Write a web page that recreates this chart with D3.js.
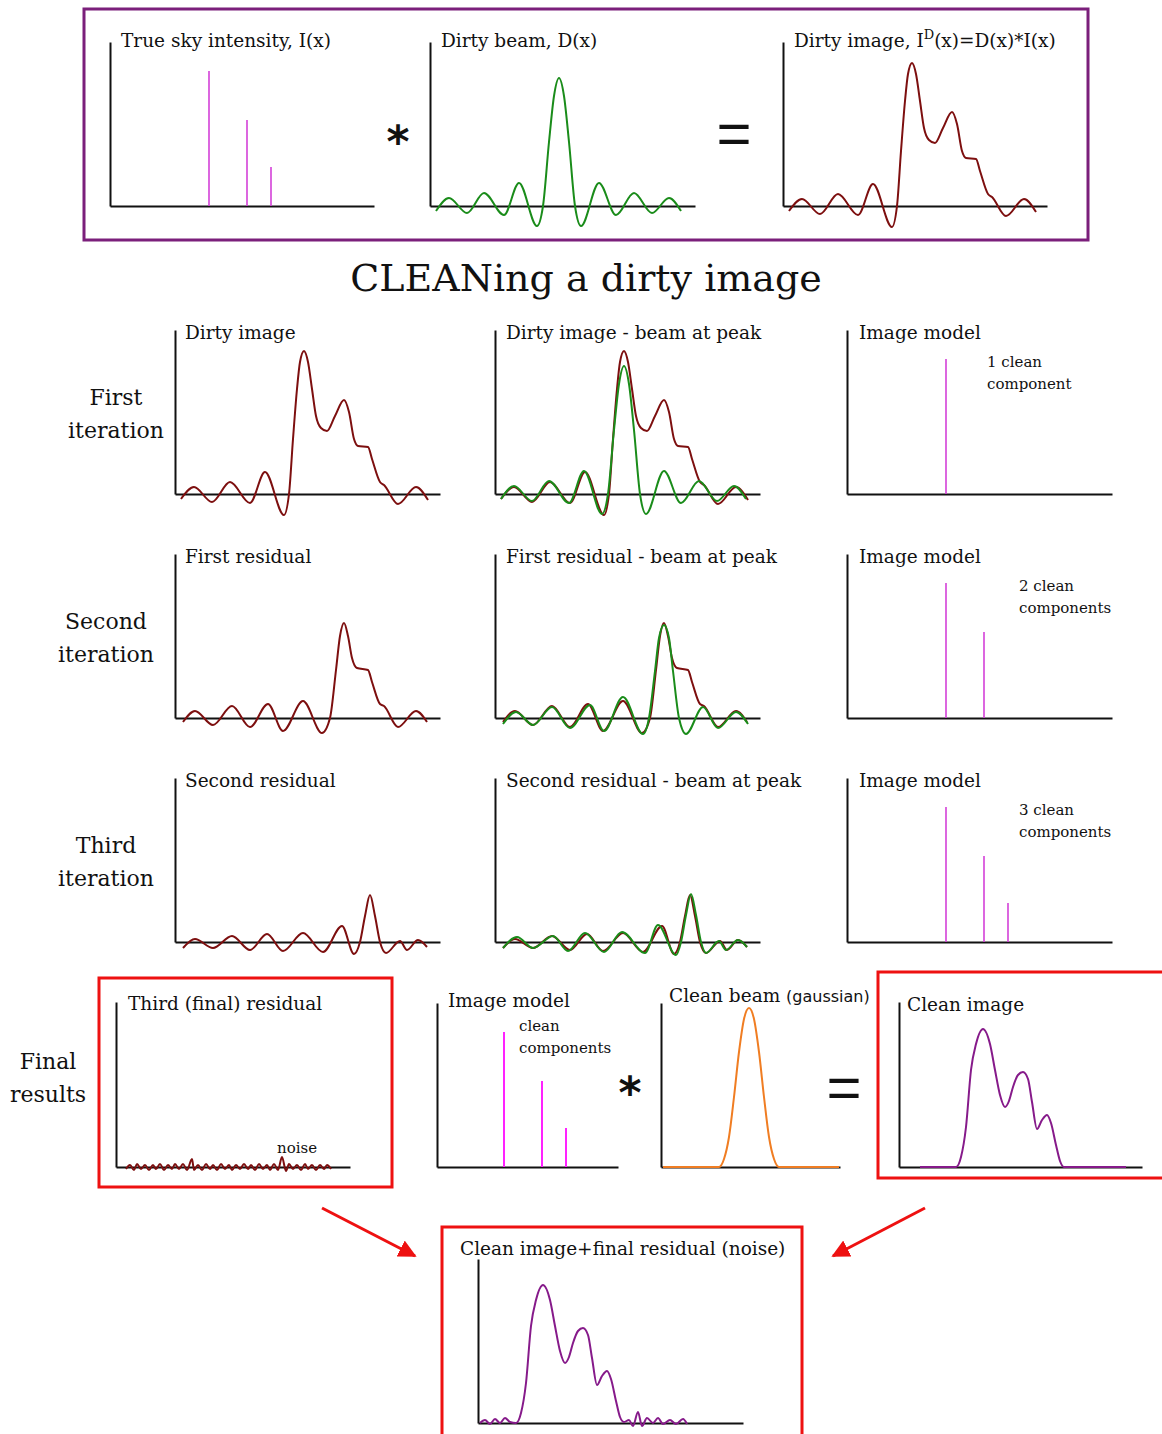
<!DOCTYPE html>
<html>
<head>
<meta charset="utf-8">
<script src="https://cdn.jsdelivr.net/npm/d3@7"></script>
<style>
  body { margin: 0; background: #fff; }
  text { font-family: "DejaVu Serif", serif; fill: #111; }
</style>
</head>
<body>
<script>

// x = distance along a panel's axis, y = intensity above the axis (arbitrary units)

// true sky: three point sources
var skyX = [99, 137, 161];
var skyAmp = [135, 86, 39];

// dirty beam D(x)
var dirtyBeam = [[6,-5],[19,8],[37,-7],[54,13],[74,-9],[89,23],[107,-20],[113,0],[119,64],[124,110],[129,128],[134,110],[139,64],[145,0],[151,-20],[169,23],[186,-9],[204,13],[222,-7],[239,8],[251,-5]];

// dirty image I^D(x)
var dirtyImage = [[6,-5],[19,7],[37,-8],[55,12],[75,-9],[90,22],[109,-21],[114,0],[118,55],[122,105],[125,132],[129,143],[133,132],[137,105],[141,78],[146,66],[152,63],[160,78],[169,94],[174,82],[179,55],[183,48],[193,47],[197,35],[205,12],[209,9],[223,-10],[241,7],[253,-6]];

// first residual and the beam shifted to its peak
var firstResidual = [[8,-4],[20,7],[38,-7],[57,12],[75,-9],[93,14],[108,-13],[128,17],[147,-15],[155,0],[161,48],[165,82],[169,95],[173,82],[177,60],[182,50],[193,48],[197,36],[205,14],[209,12],[223,-9],[241,7],[252,-4]];
var beamAtPeak2 = [[8,-6],[21,6],[38,-7],[57,11],[75,-10],[95,13],[109,-13],[128,21],[148,-16],[154,0],[160,47],[164,80],[169,93],[174,80],[178,47],[184,0],[191,-16],[208,11],[223,-10],[241,6],[253,-6]];

// second residual and the beam shifted to its peak
var secondResidual = [[8,-6],[20,3],[38,-6],[57,6],[75,-8],[92,8],[108,-9],[128,9],[148,-10],[167,16],[179,-12],[185,0],[190,26],[195,47],[200,26],[205,0],[211,-11],[225,1],[232,-8],[243,2],[252,-5]];
var beamAtPeak3 = [[8,-6],[22,5],[38,-6],[58,6],[73,-9],[90,9],[109,-10],[127,10],[150,-11],[163,17],[181,-13],[186,0],[191,27],[196,48],[201,27],[206,0],[211,-11],[224,1],[231,-8],[243,2],[252,-5]];

// third (final) residual
var finalResidual = [[10,-2],[14,2],[18,-3],[21,3],[25,-2],[29,2],[33,-3],[37,2],[40,-2],[44,3],[48,-3],[52,2],[56,-2],[59,3],[63,-2],[67,3],[71,-3],[76,8],[78,-3],[82,2],[86,-3],[90,3],[94,-2],[97,2],[101,-3],[105,3],[109,-2],[113,2],[116,-3],[120,2],[124,-2],[128,3],[132,-2],[135,2],[139,-3],[143,3],[147,-2],[151,2],[154,-3],[158,3],[162,-3],[166,10],[170,-4],[173,3],[177,-2],[181,2],[185,-3],[189,3],[192,-2],[196,2],[200,-3],[204,2],[208,-2],[211,2],[215,-2]];

// clean beam (gaussian)
var cleanBeam = [[2,0],[58,0],[63,8],[68,30],[73,70],[78,115],[83,148],[88,159],[93,148],[98,115],[103,70],[108,30],[113,8],[118,0],[178,0]];

// clean image
var cleanImage = [[21,0],[57,0],[62,10],[67,40],[72,97],[77,123],[84,138],[91,123],[96,97],[101,72],[106,60],[110,66],[114,80],[119,92],[124,95],[129,88],[133,65],[138,38],[143,47],[148,52],[152,44],[157,22],[161,6],[165,0],[227,0]];

// clean image + final residual
var restored = [[2,0],[7,3],[12,-1],[17,4],[22,0],[27,5],[32,1],[38,0],[43,10],[48,40],[53,97],[58,123],[65,138],[72,123],[77,97],[82,72],[87,60],[91,66],[95,80],[100,92],[105,95],[110,88],[114,65],[119,38],[124,47],[129,52],[133,44],[138,22],[142,6],[146,1],[151,3],[155,-3],[160,11],[164,-3],[169,5],[175,0],[180,5],[185,-1],[192,3],[198,-1],[205,4],[209,-1]];

var rowLabels = [["First", "iteration"], ["Second", "iteration"], ["Third", "iteration"]];
var leftTitles = ["Dirty image", "First residual", "Second residual"];
var midTitles = ["Dirty image - beam at peak", "First residual - beam at peak", "Second residual - beam at peak"];
var ccNotes = [["1 clean", "component"], ["2 clean", "components"], ["3 clean", "components"]];

var colors = {
  dirty: "#7d0f0f",
  beam: "#1a8c1a",
  sky: "#d440d8",
  model: "#ff22ff",
  gauss: "#f07d22",
  clean: "#861a8a",
  frame: "#7b1f7b",
  box: "#ee1111"
};

var svg = d3.select("body").append("svg")
    .attr("width", 1162)
    .attr("height", 1434);

var line = d3.line().curve(d3.curveMonotoneX);

// a panel: axis origin (x, y), width w, height h, first x value x0
function panel(o) {
  var x0 = o.x0 || 0;
  var xs = d3.scaleLinear().domain([x0, x0 + o.w]).range([o.x, o.x + o.w]);
  var ys = d3.scaleLinear().domain([0, o.h]).range([o.y, o.y - o.h]);
  var g = svg.append("g");

  g.append("g")
      .attr("transform", "translate(0," + o.y + ")")
      .call(d3.axisBottom(xs).tickValues([]).tickSizeOuter(0));
  g.append("g")
      .attr("transform", "translate(" + o.x + ",0)")
      .call(d3.axisLeft(ys).tickValues([]).tickSizeOuter(0));
  g.selectAll(".domain").attr("stroke", "#111").attr("stroke-width", 2);

  if (o.title) {
    g.append("text")
        .attr("x", o.tx)
        .attr("y", o.ty)
        .attr("font-size", o.fs || 18.5)
        .text(o.title);
  }
  return {g: g, x: xs, y: ys};
}

function curve(p, data, color) {
  p.g.append("path")
      .attr("d", line(data.map(function(d) { return [p.x(d[0]), p.y(d[1])]; })))
      .attr("fill", "none")
      .attr("stroke", color)
      .attr("stroke-width", 2);
}

function spikes(p, n, color, width) {
  p.g.selectAll(".spike" + n)
      .data(d3.range(n))
      .enter()
      .append("line")
      .attr("x1", function(i) { return p.x(skyX[i]); })
      .attr("x2", function(i) { return p.x(skyX[i]); })
      .attr("y1", p.y(0))
      .attr("y2", function(i) { return p.y(skyAmp[i]); })
      .attr("stroke", color)
      .attr("stroke-width", width);
}

function sym(x, y, s, size, weight, family) {
  svg.append("text")
      .attr("x", x)
      .attr("y", y)
      .attr("text-anchor", "middle")
      .attr("dominant-baseline", "central")
      .style("font-family", family)
      .style("font-weight", weight)
      .attr("font-size", size)
      .text(s);
}

// ---- top box: I(x) * D(x) = I^D(x)
svg.append("rect")
    .attr("x", 84).attr("y", 9)
    .attr("width", 1004).attr("height", 231)
    .attr("fill", "none")
    .attr("stroke", colors.frame)
    .attr("stroke-width", 3);

var pSky = panel({x: 110, y: 206, w: 264, h: 164, title: "True sky intensity, I(x)", tx: 121, ty: 47});
spikes(pSky, 3, colors.sky, 1.6);

var pBeam = panel({x: 430, y: 206, w: 265, h: 164, title: "Dirty beam, D(x)", tx: 441, ty: 47});
curve(pBeam, dirtyBeam, colors.beam);

var pDirty = panel({x: 783, y: 206, w: 264, h: 164, tx: 794, ty: 47});
var dt = pDirty.g.append("text").attr("x", 794).attr("y", 47).attr("font-size", 18.5);
dt.append("tspan").text("Dirty image, I");
dt.append("tspan").attr("dy", -8).attr("font-size", 13).text("D");
dt.append("tspan").attr("dy", 8).text("(x)=D(x)*I(x)");
curve(pDirty, dirtyImage, colors.dirty);

sym(398, 141, "*", 44, "bold", "DejaVu Sans, sans-serif");
sym(734, 133, "=", 60, "normal", "Liberation Sans, sans-serif");

svg.append("text")
    .attr("x", 586)
    .attr("y", 291)
    .attr("text-anchor", "middle")
    .attr("font-size", 38)
    .text("CLEANing a dirty image");

// ---- three iterations
var rowY = [494, 718, 942];
var residuals = [dirtyImage, firstResidual, secondResidual];
var shiftedBeams = [dirtyBeam, beamAtPeak2, beamAtPeak3];
var labelX = [116, 106, 106];

rowY.forEach(function(y, r) {
  rowLabels[r].forEach(function(s, k) {
    svg.append("text")
        .attr("x", labelX[r])
        .attr("y", y - 89 + k * 33)
        .attr("text-anchor", "middle")
        .attr("font-size", 22)
        .text(s);
  });

  var pa = panel({x: 175, y: y, w: 265, h: 164, title: leftTitles[r], tx: 185, ty: y - 155});
  curve(pa, residuals[r], colors.dirty);

  var pb = panel({x: 495, y: y, w: 265, h: 164, title: midTitles[r], tx: 506, ty: y - 155});
  curve(pb, residuals[r], colors.dirty);
  curve(pb, shiftedBeams[r], colors.beam);

  var pc = panel({x: 847, y: y, w: 265, h: 164, title: "Image model", tx: 859, ty: y - 155});
  spikes(pc, r + 1, colors.sky, 1.6);
  ccNotes[r].forEach(function(s, k) {
    svg.append("text")
        .attr("x", r == 0 ? 987 : 1019)
        .attr("y", y - 127 + k * 22)
        .attr("font-size", 15)
        .text(s);
  });
});

// ---- final results
["Final", "results"].forEach(function(s, k) {
  svg.append("text")
      .attr("x", 48)
      .attr("y", 1069 + k * 33)
      .attr("text-anchor", "middle")
      .attr("font-size", 22)
      .text(s);
});

function box(x, y, w, h) {
  svg.append("rect")
      .attr("x", x).attr("y", y)
      .attr("width", w).attr("height", h)
      .attr("fill", "none")
      .attr("stroke", colors.box)
      .attr("stroke-width", 3);
}

box(99, 978, 293, 209);
var pRes = panel({x: 116, y: 1167, w: 234, h: 165, title: "Third (final) residual", tx: 128, ty: 1010});
curve(pRes, finalResidual, colors.dirty);
svg.append("text").attr("x", 277).attr("y", 1153).attr("font-size", 15).text("noise");

var pModel = panel({x: 437, y: 1167, w: 181, h: 164, x0: 32, title: "Image model", tx: 448, ty: 1007});
spikes(pModel, 3, colors.model, 2);
svg.append("text").attr("x", 519).attr("y", 1031).attr("font-size", 15).text("clean");
svg.append("text").attr("x", 519).attr("y", 1053).attr("font-size", 15).text("components");

sym(630, 1092, "*", 44, "bold", "DejaVu Sans, sans-serif");

var pGauss = panel({x: 661, y: 1167, w: 179, h: 164, tx: 669, ty: 1002});
var gt = pGauss.g.append("text").attr("x", 669).attr("y", 1002).attr("font-size", 18.5);
gt.append("tspan").text("Clean beam ");
gt.append("tspan").style("font-family", "DejaVu Sans, sans-serif").attr("font-size", 16).text("(gaussian)");
curve(pGauss, cleanBeam, colors.gauss);

sym(844, 1087, "=", 60, "normal", "Liberation Sans, sans-serif");

box(878, 972, 300, 206);
var pClean = panel({x: 899, y: 1167, w: 243, h: 165, title: "Clean image", tx: 907, ty: 1011});
curve(pClean, cleanImage, colors.clean);

// ---- arrows to the restored image
svg.append("defs").append("marker")
    .attr("id", "head")
    .attr("viewBox", "0 0 10 10")
    .attr("refX", 9).attr("refY", 5)
    .attr("markerWidth", 6).attr("markerHeight", 6)
    .attr("orient", "auto")
    .append("path")
    .attr("d", "M0,0L10,5L0,10z")
    .attr("fill", colors.box);

[[322, 1208, 415, 1256], [925, 1208, 833, 1256]].forEach(function(a) {
  svg.append("line")
      .attr("x1", a[0]).attr("y1", a[1])
      .attr("x2", a[2]).attr("y2", a[3])
      .attr("stroke", colors.box)
      .attr("stroke-width", 3)
      .attr("marker-end", "url(#head)");
});

box(442, 1227, 360, 220);
var pRest = panel({x: 478, y: 1423, w: 265, h: 164, title: "Clean image+final residual (noise)", tx: 460, ty: 1255});
curve(pRest, restored, colors.clean);

</script>
</body>
</html>
